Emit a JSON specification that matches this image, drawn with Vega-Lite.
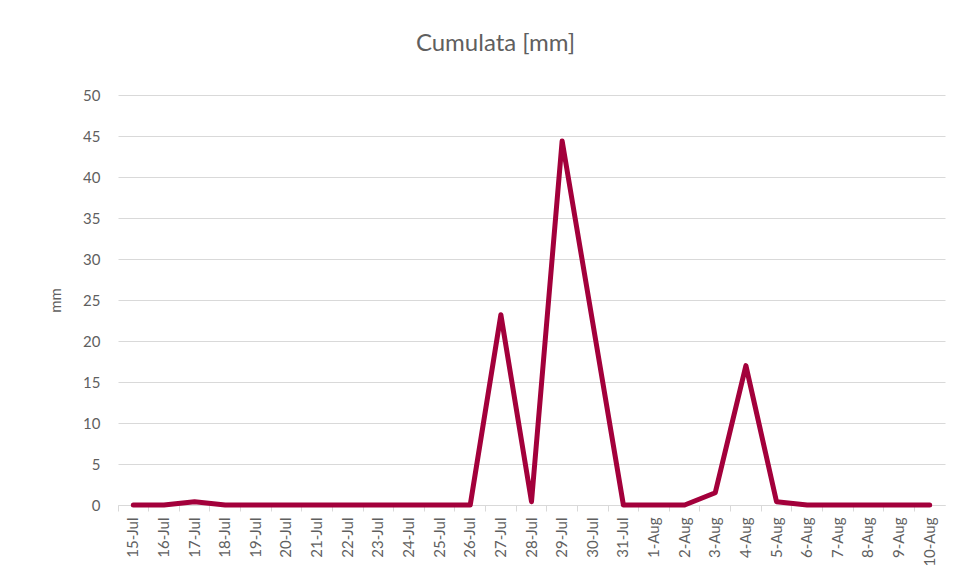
{
  "$schema": "https://vega.github.io/schema/vega-lite/v6.json",
  "width": 827,
  "height": 410,
  "autosize": {"type": "none"},
  "padding": {"left": 118, "top": 95, "right": 15, "bottom": 76},
  "background": "white",
  "title": {
    "text": "Cumulata [mm]",
    "font": "Lato",
    "fontSize": 24,
    "fontWeight": "normal",
    "color": "#5f5f5f",
    "anchor": "middle",
    "dx": -36,
    "offset": 32
  },
  "config": {
    "view": {"stroke": null},
    "font": "Lato"
  },
  "data": {
    "values": [
      {"date": "15-Jul", "mm": 0},
      {"date": "16-Jul", "mm": 0},
      {"date": "17-Jul", "mm": 0.4},
      {"date": "18-Jul", "mm": 0},
      {"date": "19-Jul", "mm": 0},
      {"date": "20-Jul", "mm": 0},
      {"date": "21-Jul", "mm": 0},
      {"date": "22-Jul", "mm": 0},
      {"date": "23-Jul", "mm": 0},
      {"date": "24-Jul", "mm": 0},
      {"date": "25-Jul", "mm": 0},
      {"date": "26-Jul", "mm": 0},
      {"date": "27-Jul", "mm": 23.2},
      {"date": "28-Jul", "mm": 0.4},
      {"date": "29-Jul", "mm": 44.4},
      {"date": "30-Jul", "mm": 22.2},
      {"date": "31-Jul", "mm": 0},
      {"date": "1-Aug", "mm": 0},
      {"date": "2-Aug", "mm": 0},
      {"date": "3-Aug", "mm": 1.5},
      {"date": "4-Aug", "mm": 17},
      {"date": "5-Aug", "mm": 0.4},
      {"date": "6-Aug", "mm": 0},
      {"date": "7-Aug", "mm": 0},
      {"date": "8-Aug", "mm": 0},
      {"date": "9-Aug", "mm": 0},
      {"date": "10-Aug", "mm": 0}
    ]
  },
  "mark": {"type": "line", "color": "#A3003B", "strokeWidth": 5, "strokeJoin": "round", "strokeCap": "round"},
  "encoding": {
    "x": {
      "field": "date",
      "type": "ordinal",
      "sort": null,
      "bandPosition": 0.5,
      "scale": {"type": "band", "paddingInner": 0, "paddingOuter": 0},
      "axis": {
        "title": null,
        "labelAngle": -90,
        "labelAlign": "right",
        "labelBaseline": "middle",
        "labelFont": "Lato",
        "labelFontSize": 15,
        "labelColor": "#5f5f5f",
        "labelPadding": 6,
        "bandPosition": 0,
        "domainColor": "#d9d9d9",
        "domainWidth": 1,
        "tickColor": "#d9d9d9",
        "tickSize": 6,
        "grid": false
      }
    },
    "y": {
      "field": "mm",
      "type": "quantitative",
      "scale": {"domain": [0, 50], "nice": false},
      "axis": {
        "title": "mm",
        "titleFont": "Lato",
        "titleFontSize": 15,
        "titleFontWeight": "normal",
        "titleColor": "#5f5f5f",
        "titlePadding": 19,
        "values": [0, 5, 10, 15, 20, 25, 30, 35, 40, 45, 50],
        "labelFont": "Lato",
        "labelFontSize": 15,
        "labelColor": "#5f5f5f",
        "labelPadding": 18,
        "domain": false,
        "ticks": false,
        "gridColor": "#d9d9d9",
        "gridWidth": 1
      }
    }
  }
}
